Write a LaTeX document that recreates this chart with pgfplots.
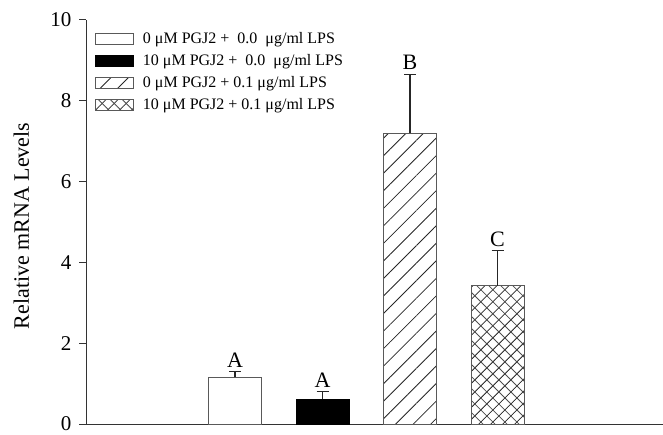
\documentclass[border=0pt]{standalone}
\usepackage{fontspec}
\setmainfont{Liberation Serif}
\usepackage{pgfplots}
\pgfplotsset{compat=1.18}
\usetikzlibrary{patterns.meta}
\begin{document}
\begin{tikzpicture}
\path[use as bounding box] (0,0) rectangle (663pt,434pt);
\begin{axis}[
  at={(86pt,10pt)}, anchor=south west,
  scale only axis, width=577pt, height=404pt,
  xmin=-0.703, xmax=5.891, ymin=0, ymax=10,
  axis x line=bottom, axis y line=left,
  axis line style={-, line width=1pt, black!80},
  xtick=\empty, ytick={0,2,...,10},
  tick align=outside, major tick length=7pt,
  y tick style={line width=1pt, black!80},
  /pgf/number format/assume math mode=true,
  tick label style={font=\fontsize{21}{25}\selectfont},
  yticklabel style={xshift=-4pt},
  ylabel={Relative mRNA Levels},
  ylabel style={at={(axis description cs:-0.112,0.49)}, anchor=center, font=\fontsize{22}{26}\selectfont},
  clip=false,
  legend style={draw=none, fill=none, at={(axis description cs:0.0156,0.975)}, anchor=north west,
    font=\fontsize{16}{19}\selectfont, inner sep=0pt, row sep=5.5pt,
    cells={anchor=west}},
  every axis plot/.append style={ybar, bar width=53pt, bar shift=0pt, line width=0.8pt,
    legend image code/.code={\draw[##1] (0pt,-5.5pt) rectangle (38pt,5.5pt); \path (45pt,0pt);}},
  error bars/error bar style={line width=1.2pt, black!85},
  error bars/error mark options={rotate=90, mark size=6pt, line width=1.2pt, black!85},
]
\addplot[draw=black!65, fill=white, error bars/.cd, y dir=plus, y explicit]
  coordinates {(1,1.156) +- (0,0.139)};
\addlegendentry{0 μM PGJ2 + \ 0.0\ \ μg/ml LPS}
\addplot[draw=black, fill=black, error bars/.cd, y dir=plus, y explicit]
  coordinates {(2,0.61) +- (0,0.19)};
\addlegendentry{10 μM PGJ2 + \ 0.0\ \ μg/ml LPS}
\addplot[draw=black!65, pattern={Lines[angle=45, distance=12.4pt, line width=0.8pt]}, pattern color=black!85, error bars/.cd, y dir=plus, y explicit]
  coordinates {(3,7.195) +- (0,1.465)};
\addlegendentry{0 μM PGJ2 + 0.1 μg/ml LPS}
\addplot[draw=black!65, pattern={Lines[angle=45, distance=8.5pt, line width=0.8pt]}, pattern color=black!85,
  postaction={pattern={Lines[angle=-45, distance=8.5pt, line width=0.8pt]}, pattern color=black!70},
  error bars/.cd, y dir=plus, y explicit]
  coordinates {(4,3.42) +- (0,0.87)};
\addlegendentry{10 μM PGJ2 + 0.1 μg/ml LPS}
\node[anchor=south, inner sep=0pt, yshift=4pt, font=\fontsize{22}{26}\selectfont] at (axis cs:1,1.295) {A};
\node[anchor=south, inner sep=0pt, yshift=4pt, font=\fontsize{22}{26}\selectfont] at (axis cs:2,0.80) {A};
\node[anchor=south, inner sep=0pt, yshift=4pt, font=\fontsize{22}{26}\selectfont] at (axis cs:3,8.66) {B};
\node[anchor=south, inner sep=0pt, yshift=4pt, font=\fontsize{22}{26}\selectfont] at (axis cs:4,4.29) {C};
\end{axis}
\end{tikzpicture}
\end{document}
